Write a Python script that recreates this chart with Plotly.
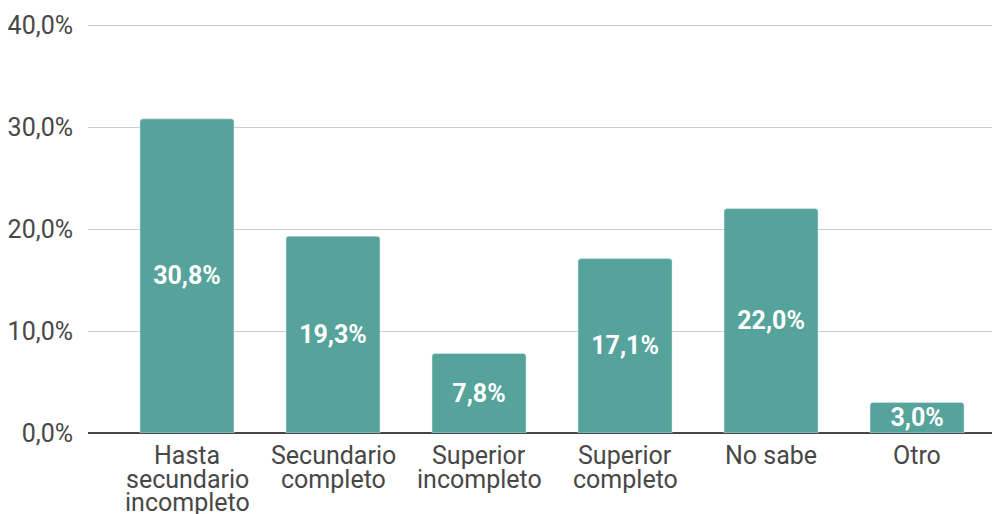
import plotly.graph_objects as go

categories = ["Hasta<br>secundario<br>incompleto", "Secundario<br>completo", "Superior<br>incompleto",
              "Superior<br>completo", "No sabe", "Otro"]
values = [30.8, 19.3, 7.8, 17.1, 22.0, 3.0]
y_ticks = [0, 10, 20, 30, 40]

FONT = "Roboto"
GREY = "#474747"
FS = 25

x_idx = list(range(len(categories)))
fig = go.Figure(go.Bar(
    x=x_idx, y=values,
    marker=dict(color="#55a39b", cornerradius=3),
    texttemplate="%{y:.1f}%", textposition="inside", insidetextanchor="middle",
    textfont=dict(family=FONT, size=FS, color="white", weight="bold"),
    cliponaxis=False,
))

# category labels: one annotation per line so the line spacing matches
line_gap = 23.5
for i, cat in enumerate(categories):
    for k, line in enumerate(cat.split("<br>")):
        fig.add_annotation(
            x=i, y=0, xref="x", yref="y", text=line, showarrow=False,
            xanchor="center", yanchor="middle", yshift=-(22.5 + k * line_gap),
            font=dict(family=FONT, size=FS, color=GREY),
        )

# page body has an 8px offset, so margins are shifted to compensate
fig.update_layout(
    width=1000, height=514,
    margin=dict(l=80, r=8, t=16, b=89),
    plot_bgcolor="white", paper_bgcolor="white",
    separators=",.",
    bargap=0.356,
    showlegend=False,
    font=dict(family=FONT, size=FS, color=GREY),
    uniformtext=dict(minsize=FS, mode="show"),
)
fig.update_xaxes(
    range=[-0.678, 5.568], showgrid=False, showline=False, zeroline=False,
    showticklabels=False, ticks="", automargin=False,
)
fig.update_yaxes(
    range=[0, 40.1], tickmode="array", tickvals=y_ticks,
    ticktext=[f"{v:.1f}%".replace(".", ",") for v in y_ticks],
    showgrid=True, gridcolor="#cccccc", gridwidth=1,
    zeroline=True, zerolinecolor=GREY, zerolinewidth=2,
    ticks="", ticklabelstandoff=14, automargin=False,
    tickfont=dict(family=FONT, size=FS, color=GREY),
)
fig.write_html("out.html")
